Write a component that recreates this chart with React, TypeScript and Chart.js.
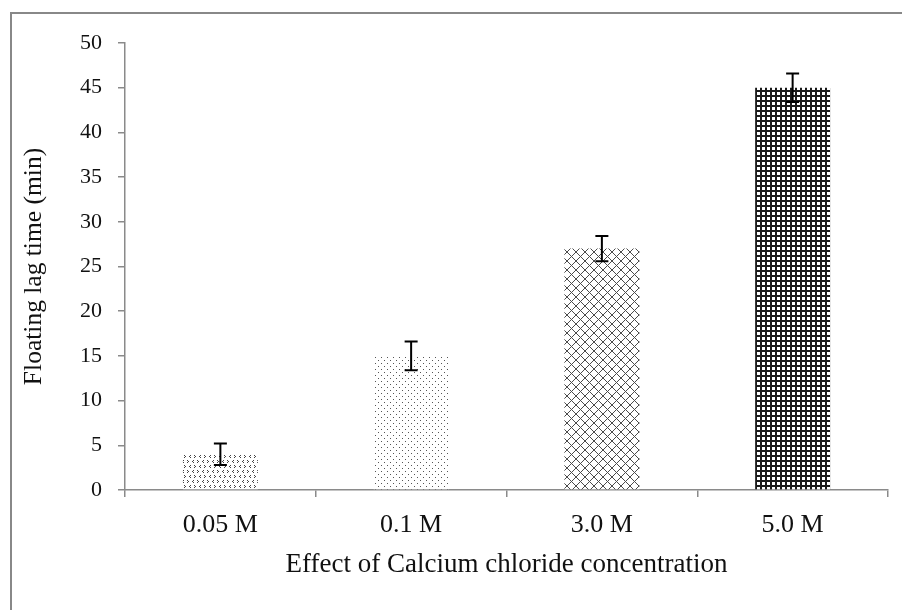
import React, { useEffect, useRef } from "react";
import { Chart, registerables } from "chart.js";

Chart.register(...registerables);

// Calcium chloride concentrations and the measured floating lag times
const categories = ["0.05 M", "0.1 M", "3.0 M", "5.0 M"];
const lagTimes = [4, 15, 27, 45];
const lagErrors = [1.2, 1.6, 1.4, 1.6];

const yTitle = "Floating lag time (min)";
const xTitle = "Effect of Calcium chloride concentration";

const FONT = "'Liberation Serif', 'Times New Roman', serif";

function makeTile(w: number, h: number, draw: (c: CanvasRenderingContext2D) => void) {
  const cv = document.createElement("canvas");
  cv.width = w;
  cv.height = h;
  const c = cv.getContext("2d")!;
  c.fillStyle = "#ffffff";
  c.fillRect(0, 0, w, h);
  draw(c);
  return c.createPattern(cv, "repeat")!;
}

function buildPatterns() {
  // small chevron dots "< >"
  const chevrons = makeTile(10, 10, (c) => {
    c.fillStyle = "#444";
    c.fillRect(3, 0, 1, 1);
    c.fillRect(2, 1, 1, 1);
    c.fillRect(3, 2, 1, 1);
    c.fillRect(7, 0, 1, 1);
    c.fillRect(8, 1, 1, 1);
    c.fillRect(7, 2, 1, 1);
    c.fillRect(0, 5, 1, 1);
    c.fillRect(9, 6, 1, 1);
    c.fillRect(0, 7, 1, 1);
    c.fillRect(4, 5, 1, 1);
    c.fillRect(5, 6, 1, 1);
    c.fillRect(4, 7, 1, 1);
  });
  // fine staggered dots
  const dots = makeTile(6, 6, (c) => {
    c.fillStyle = "#555";
    c.fillRect(0, 0, 1, 1);
    c.fillRect(3, 3, 1, 1);
  });
  // diagonal cross-hatch
  const hatch = makeTile(9, 9, (c) => {
    c.fillStyle = "#4a4a4a";
    for (let i = 0; i < 9; i++) {
      c.fillRect(i, i, 1, 1);
      c.fillRect(8 - i, i, 1, 1);
    }
  });
  // dense square grid
  const grid = makeTile(5, 5, (c) => {
    c.fillStyle = "#1a1a1a";
    c.fillRect(0, 0, 5, 2);
    c.fillRect(0, 0, 2, 5);
  });
  return [chevrons, dots, hatch, grid];
}

const errorBarPlugin = {
  id: "errorBars",
  afterDatasetsDraw(chart: any) {
    const { ctx, scales } = chart;
    const meta = chart.getDatasetMeta(0);
    ctx.save();
    ctx.strokeStyle = "#000";
    ctx.lineWidth = 2;
    meta.data.forEach((bar: any, i: number) => {
      const x = bar.x;
      const hi = scales.y.getPixelForValue(lagTimes[i] + lagErrors[i]);
      const lo = scales.y.getPixelForValue(lagTimes[i] - lagErrors[i]);
      const cap = 6.5;
      ctx.beginPath();
      ctx.moveTo(x, hi);
      ctx.lineTo(x, lo);
      ctx.moveTo(x - cap, hi);
      ctx.lineTo(x + cap, hi);
      ctx.moveTo(x - cap, lo);
      ctx.lineTo(x + cap, lo);
      ctx.stroke();
    });
    ctx.restore();
  },
};

export default function App() {
  const ref = useRef<HTMLCanvasElement>(null);

  useEffect(() => {
    const canvas = ref.current!;
    const patterns = buildPatterns();
    const chart = new Chart(canvas, {
      type: "bar",
      data: {
        labels: categories,
        datasets: [
          {
            data: lagTimes,
            backgroundColor: patterns as any,
            borderWidth: 0,
            categoryPercentage: 1,
            barPercentage: 0.393,
          },
        ],
      },
      options: {
        responsive: false,
        animation: false,
        devicePixelRatio: 1,
        layout: { padding: { left: 0, right: 14, top: 43, bottom: 0 } },
        plugins: {
          legend: { display: false },
          tooltip: { enabled: false },
        },
        scales: {
          x: {
            offset: true,
            grid: {
              offset: true,
              drawOnChartArea: false,
              drawTicks: true,
              tickLength: 7,
              color: "#8a8a8a",
              lineWidth: 1.5,
            },
            border: { display: true, color: "#8a8a8a", width: 1.5 },
            ticks: {
              color: "#111",
              padding: 13,
              font: { family: FONT, size: 26 },
            },
            title: {
              display: true,
              text: xTitle,
              color: "#111",
              font: { family: FONT, size: 27 },
              padding: { top: 0, bottom: 29 },
            },
            afterFit(scale: any) {
              scale.height = 120;
            },
          },
          y: {
            min: 0,
            max: 50,
            grid: {
              drawOnChartArea: false,
              drawTicks: true,
              tickLength: 7,
              color: "#8a8a8a",
              lineWidth: 1.5,
            },
            border: { display: true, color: "#8a8a8a", width: 1.5 },
            ticks: {
              stepSize: 5,
              color: "#111",
              padding: 16,
              font: { family: FONT, size: 22 },
            },
            title: {
              display: true,
              text: yTitle,
              color: "#111",
              font: { family: FONT, size: 25.5 },
              padding: { top: 19, bottom: 0 },
            },
            afterFit(scale: any) {
              scale.width = 125;
            },
          },
        },
      },
      plugins: [errorBarPlugin],
    });
    return () => chart.destroy();
  }, []);

  return (
    <div
      style={{
        position: "fixed",
        left: 0,
        top: 0,
        width: 902,
        height: 610,
        overflow: "hidden",
        background: "#fff",
      }}
    >
      <div
        style={{
          position: "absolute",
          left: 10,
          top: 12,
          width: 920,
          height: 640,
          border: "2px solid #888",
          boxSizing: "border-box",
        }}
      />
      <canvas
        ref={ref}
        width={902}
        height={610}
        style={{ position: "absolute", left: 0, top: 0, width: 902, height: 610 }}
      />
    </div>
  );
}
